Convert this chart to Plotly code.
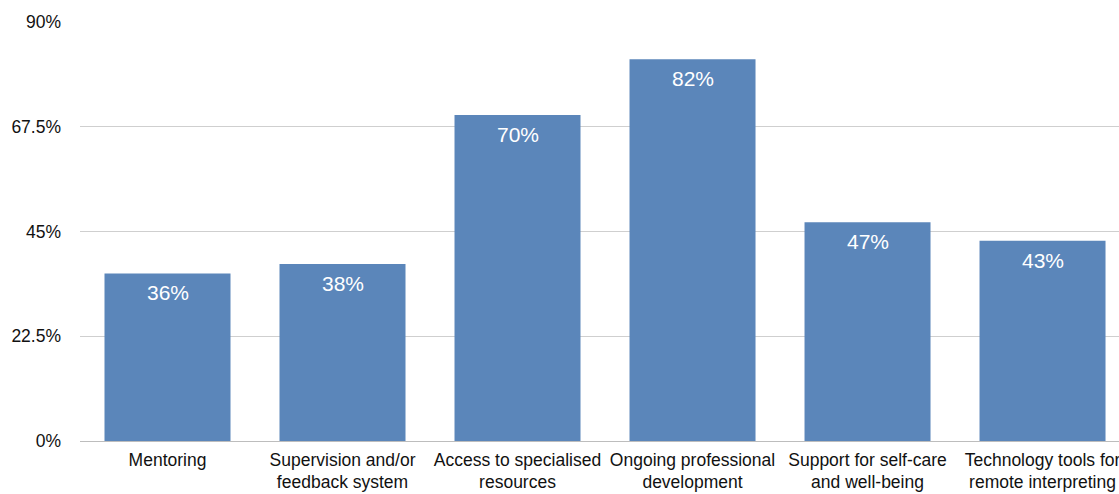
import plotly.graph_objects as go

categories = [
    "Mentoring",
    "Supervision and/or<br>feedback system",
    "Access to specialised<br>resources",
    "Ongoing professional<br>development",
    "Support for self-care<br>and well-being",
    "Technology tools for<br>remote interpreting",
]
values = [36, 38, 70, 82, 47, 43]
y_ticks = [0, 22.5, 45, 67.5, 90]
y_tick_labels = ["0%", "22.5%", "45%", "67.5%", "90%"]

FONT = "Liberation Sans, Arial, Helvetica, sans-serif"
BAR_COLOR = "#5b86ba"
TEXT_COLOR = "#111111"

x_pos = list(range(len(categories)))

fig = go.Figure(
    go.Bar(
        x=x_pos,
        y=values,
        width=0.72,
        marker=dict(color=BAR_COLOR, line=dict(width=0)),
        hoverinfo="skip",
    )
)

# value labels sit just inside the top of each bar
for xi, v in zip(x_pos, values):
    fig.add_annotation(
        x=xi, y=v, text=f"{v}%", showarrow=False,
        yanchor="top", yshift=-6,
        font=dict(family=FONT, size=21, color="white"),
    )

fig.update_layout(
    width=1119, height=494,
    margin=dict(l=80, r=0, t=22, b=53),
    paper_bgcolor="white", plot_bgcolor="white",
    showlegend=False,
    font=dict(family=FONT, size=17.5, color=TEXT_COLOR),
)
fig.update_xaxes(
    tickmode="array", tickvals=x_pos, ticktext=categories,
    range=[-0.5, 5.437], tickangle=0,
    showgrid=False, ticks="", showline=False, zeroline=False,
    ticklabelstandoff=6, automargin=False, ticklabeloverflow="allow",
    tickfont=dict(family=FONT, size=17.5, color=TEXT_COLOR),
)
fig.update_yaxes(
    range=[0, 90], tickmode="array", tickvals=y_ticks, ticktext=y_tick_labels,
    showgrid=True, gridcolor="#cfcfcf", gridwidth=1,
    zeroline=True, zerolinecolor="#bdbdbd", zerolinewidth=1,
    ticks="", ticklabelstandoff=18, automargin=False, ticklabeloverflow="allow",
    tickfont=dict(family=FONT, size=17.5, color=TEXT_COLOR),
)

fig.write_html("out.html")
